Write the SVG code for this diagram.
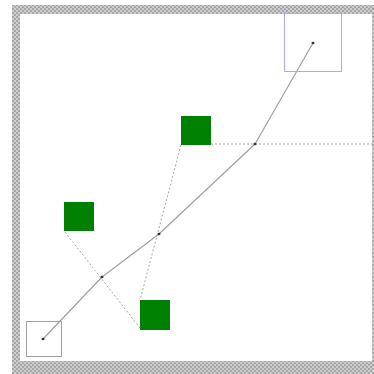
<svg xmlns="http://www.w3.org/2000/svg" width="374" height="374" viewBox="0 0 374 374">
<defs>
<pattern id="chk" width="4" height="4" patternUnits="userSpaceOnUse">
<rect width="4" height="4" fill="#cccccc"/>
<rect width="2" height="2" fill="#a8a8a8"/>
<rect x="2" y="2" width="2" height="2" fill="#a8a8a8"/>
</pattern>
<style>
.dash{fill:none;stroke:#a8a8a8;stroke-width:1;stroke-dasharray:2,2}
.curve{fill:none;stroke:#a0a0a0;stroke-width:1.2;stroke-linejoin:round}
.pt{fill:#333}
.green{fill:#008000}
</style>
</defs>
<rect width="374" height="374" fill="#ffffff"/>
<rect x="12" y="5" width="362" height="369" fill="url(#chk)"/>
<rect x="20" y="14" width="352" height="347" fill="#ffffff"/>
<line x1="372.5" y1="14" x2="372.5" y2="361" stroke="#c8c8c8" stroke-dasharray="1,2"/>
<g id="connectors">
<line class="dash" x1="181" y1="145" x2="140" y2="300"/>
<line class="dash" x1="65" y1="232" x2="140" y2="328"/>
<line class="dash" x1="211" y1="144" x2="372" y2="144"/>
<polyline class="curve" points="43,339 102,277 159,234 255,144 313,43"/>
</g>
<g id="start"><rect x="26.5" y="321.5" width="35" height="35" fill="none" stroke="#a0a0a0" stroke-width="1"/><ellipse class="pt" cx="43" cy="339" rx="1.5" ry="1.2"/></g>
<g id="end"><rect x="284.5" y="13.5" width="57" height="58" fill="none" stroke="#a8a8ff" stroke-width="1"/><ellipse class="pt" cx="313" cy="43" rx="1.5" ry="1.2"/></g>
<g id="p1"><ellipse class="pt" cx="102" cy="277" rx="1.5" ry="1.2"/></g>
<g id="p2"><ellipse class="pt" cx="159" cy="234" rx="1.5" ry="1.2"/></g>
<g id="p3"><ellipse class="pt" cx="255" cy="144" rx="1.5" ry="1.2"/></g>
<g id="g1"><rect class="green" x="181" y="116" width="30" height="29"/></g>
<g id="g2"><rect class="green" x="64" y="202" width="30" height="29"/></g>
<g id="g3"><rect class="green" x="140" y="300" width="30" height="30"/></g>
</svg>
